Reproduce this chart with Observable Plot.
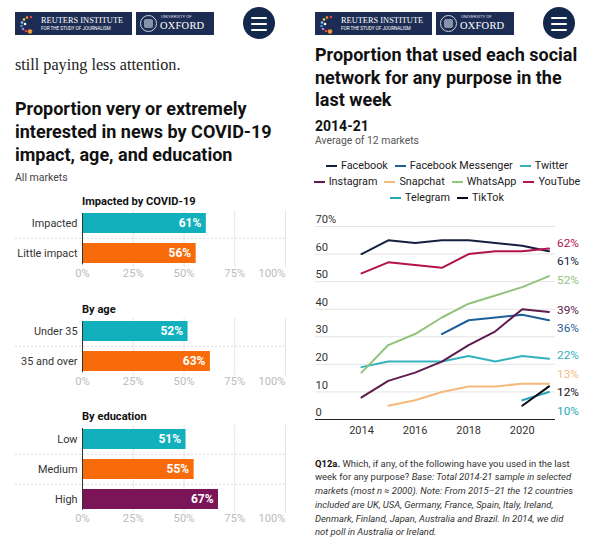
<!DOCTYPE html>
<html><head><meta charset="utf-8">
<script src="https://cdn.jsdelivr.net/npm/d3@7"></script>
<script src="https://cdn.jsdelivr.net/npm/@observablehq/plot@0.6"></script>
<style>
body{margin:0;background:#fff;font-family:Roboto,sans-serif;color:#222}
#page{position:relative;width:600px;height:537px;overflow:hidden;background:#fff}
.col{position:absolute;top:0;width:300px;height:537px}
.abs{position:absolute;white-space:nowrap}
.box{position:absolute;top:12px;height:23px;background:#1c2c52;overflow:hidden}
.menu{position:absolute;left:243px;top:7px;width:32px;height:32px;border-radius:50%;background:#14284b}
.menu span{position:absolute;left:8px;width:16px;height:2.5px;background:#fff;border-radius:1px}
.title{font-weight:700;font-size:18px;line-height:23px;color:#111}
.lg{display:flex;flex-wrap:wrap;justify-content:center;column-gap:7px;row-gap:0;font-size:10.8px;line-height:16px;color:#222}
.lg div{display:flex;align-items:center;gap:4px}
.lg i{display:inline-block;width:11px;height:2.5px}
svg{display:block}
</style></head>
<body><div id="page">
<div class="col" id="left" style="left:0"></div>
<div class="col" id="right" style="left:300px"></div>
</div>
<script>
// ---------- data ----------
const barGroupTitles = ["Impacted by COVID-19", "By age", "By education"];
const covidCats = ["Impacted", "Little impact"];
const covidVals = [61, 56];
const ageCats = ["Under 35", "35 and over"];
const ageVals = [52, 63];
const eduCats = ["Low", "Medium", "High"];
const eduVals = [51, 55, 67];
const barTicks = [0, 25, 50, 75, 100];

const years = [2014, 2015, 2016, 2017, 2018, 2019, 2020, 2021];
const networks = ["Facebook", "Facebook Messenger", "Twitter", "Instagram", "Snapchat", "WhatsApp", "YouTube", "Telegram", "TikTok"];
const facebook  = [60, 65, 64, 65, 65, 64, 63, 61];
const messenger = [null, null, null, 31, 36, 37, 38, 36];
const twitter   = [19, 21, 21, 21, 23, 21, 23, 22];
const instagram = [8, 14, 17, 21, 27, 32, 40, 39];
const snapchat  = [null, 5, 7, 10, 12, 12, 13, 13];
const whatsapp  = [17, 27, 31, 37, 42, 45, 48, 52];
const youtube   = [53, 57, 56, 55, 60, 61, 61, 62];
const telegram  = [null, null, null, null, null, null, 7, 10];
const tiktok    = [null, null, null, null, null, null, 5, 12];
const lineXTicks = [2014, 2016, 2018, 2020];
const lineYTicks = [0, 10, 20, 30, 40, 50, 60, 70];

// ---------- styles ----------
const barColors = ["#12b0bd", "#f76b0a", "#7b1558"];
const netColors = ["#14203f", "#1d5e9b", "#33b2be", "#5e1b4f", "#f3ba7c", "#92c37c", "#b3124c", "#2aa6b6", "#0b0b18"];
const FONT = "Roboto, sans-serif";

// ---------- header ----------
function header(col) {
  const dots = ["#e9423a","#f39a2c","#f6d14b","#8fc8e8","#3aa0d8","#c27ad0","#e9423a","#f39a2c","#ffffff"];
  let dotSvg = '<svg width="16" height="20" style="position:absolute;left:4px;top:2px">';
  const pts = [[12,3],[8,3.5],[5,5.5],[3,8.5],[2.5,12],[4,15],[7,17],[11,17.5],[6,10]];
  pts.forEach((p, i) => dotSvg += `<circle cx="${p[0]}" cy="${p[1]}" r="${i===7?2.3:1.3}" fill="${dots[i]}"/>`);
  dotSvg += '</svg>';
  col.insertAdjacentHTML("beforeend", `
  <div class="box" style="left:15px;width:117px">${dotSvg}
    <div class="abs" style="left:26px;top:3.5px;font-family:'Liberation Serif',serif;font-size:8.4px;color:#fff">REUTERS INSTITUTE</div>
    <div class="abs" style="left:26px;top:14px;font-size:4.6px;color:#fff">FOR THE STUDY OF JOURNALISM</div>
  </div>
  <div class="box" style="left:136px;width:78px">
    <div class="abs" style="left:4px;top:3px;width:15px;height:15px;border:1px solid #cfd5e0;border-radius:50%"></div>
    <div class="abs" style="left:8px;top:7px;width:9px;height:9px;background:#8893aa;border-radius:2px"></div>
    <div class="abs" style="left:25px;top:2px;font-size:4.4px;color:#dde">UNIVERSITY OF</div>
    <div class="abs" style="left:24px;top:7.5px;font-family:'Liberation Serif',serif;font-size:10.5px;color:#fff;letter-spacing:0.2px">OXFORD</div>
  </div>
  <div class="menu"><span style="top:9.5px"></span><span style="top:15.5px"></span><span style="top:21.5px"></span></div>`);
}

const left = document.getElementById("left");
const right = document.getElementById("right");
header(left);
header(right);

// ---------- left column texts ----------
left.insertAdjacentHTML("beforeend", `
<div class="abs" style="left:15px;top:55px;font-family:'Liberation Serif',serif;font-size:16.2px;line-height:20px;color:#222">still paying less attention.</div>
<div class="abs title" style="left:15px;top:97px">Proportion very or extremely<br>interested in news by COVID-19<br>impact, age, and education</div>
<div class="abs" style="left:15px;top:171px;font-size:10.5px;line-height:13px;color:#444">All markets</div>`);

const groups = [
  {title: barGroupTitles[0], cats: covidCats, vals: covidVals, top: 206.7},
  {title: barGroupTitles[1], cats: ageCats, vals: ageVals, top: 314.7},
  {title: barGroupTitles[2], cats: eduCats, vals: eduVals, top: 422}
];
const PI = 0.32, PO = 0.1, MT = 3, MB = 20, STEP = 30.5;
groups.forEach((g, gi) => {
  const n = g.cats.length;
  const H = MT + MB + STEP * (n - PI + 2 * PO);
  const rows = g.cats.map((c, i) => ({cat: c, value: g.vals[i], color: barColors[i]}));
  const plot = Plot.plot({
    width: 300, height: H,
    marginLeft: 82, marginRight: 15, marginTop: MT, marginBottom: MB,
    style: {fontFamily: FONT, fontSize: "10.9px", color: "#333", overflow: "visible", background: "transparent"},
    x: {domain: [0, 100], axis: null},
    y: {domain: g.cats, paddingInner: PI, paddingOuter: PO, tickSize: 0, tickPadding: 5, label: null},
    color: {type: "identity"},
    marks: [
      Plot.ruleX(barTicks.slice(1), {stroke: "#e6e6e6"}),
      Plot.ruleY(g.cats.slice(1), {y: d => d, dy: -STEP / 2, stroke: "#d8d8d8", strokeDasharray: "2,2", insetLeft: -67, insetRight: -2}),
      Plot.barX(rows, {x: "value", y: "cat", fill: "color"}),
      Plot.ruleX([0], {stroke: "#333", insetTop: 3, insetBottom: 3}),
      Plot.text(rows, {x: "value", y: "cat", text: d => d.value + "%", textAnchor: "end", dx: -5, fill: "white", fontWeight: "bold", fontSize: 12}),
      Plot.text(barTicks.slice(0, -1), {x: d => d, frameAnchor: "bottom", dy: 9, text: d => d + "%", fill: "#bbb", fontSize: 11.2}),
      Plot.text(barTicks.slice(-1), {x: d => d, frameAnchor: "bottom", dy: 9, text: d => d + "%", textAnchor: "end", fill: "#bbb", fontSize: 11.2})
    ]
  });
  const wrap = document.createElement("div");
  wrap.className = "abs";
  wrap.style.left = "0px";
  wrap.style.top = g.top + "px";
  wrap.appendChild(plot);
  left.appendChild(wrap);
  left.insertAdjacentHTML("beforeend", `<div class="abs" style="left:82px;top:${g.top - 12}px;font-size:11.1px;line-height:14px;font-weight:700;color:#111">${g.title}</div>`);
});

// ---------- right column texts ----------
right.insertAdjacentHTML("beforeend", `
<div class="abs title" style="left:15px;top:44px;line-height:22.7px">Proportion that used each social<br>network for any purpose in the<br>last week</div>
<div class="abs" style="left:15px;top:118px;font-size:14px;line-height:16px;font-weight:700;color:#111">2014-21</div>
<div class="abs" style="left:15px;top:133.5px;font-size:10.4px;line-height:13px;color:#555">Average of 12 markets</div>
<div class="abs" style="left:15px;top:456.5px;font-size:9.45px;line-height:13.75px;color:#333"><b style="color:#111">Q12a.</b> Which, if any, of the following have you used in the last<br>week for any purpose? <i>Base: Total 2014-21 sample in selected<br>markets (most n ≈ 2000). Note: From 2015–21 the 12 countries<br>included are UK, USA, Germany, France, Spain, Italy, Ireland,<br>Denmark, Finland, Japan, Australia and Brazil. In 2014, we did<br>not poll in Australia or Ireland.</i></div>`);

// legend
const lg = document.createElement("div");
lg.className = "lg abs";
lg.style.left = "2px"; lg.style.top = "158px"; lg.style.width = "290px"; lg.style.whiteSpace = "normal";
networks.forEach((n, i) => {
  const it = document.createElement("div");
  it.innerHTML = `<i style="background:${netColors[i]}"></i><span>${n}</span>`;
  lg.appendChild(it);
});
right.appendChild(lg);

// ---------- line chart ----------
const seriesVals = [facebook, messenger, twitter, instagram, snapchat, whatsapp, youtube, telegram, tiktok];
const lineRows = [];
seriesVals.forEach((s, k) => s.forEach((v, i) => { if (v != null) lineRows.push({network: networks[k], year: years[i], value: v}); }));

const LW = 300, LH = 232, LMT = 14, LMB = 25;
const yScale = Plot.scale({y: {domain: [0, 70], range: [LH - LMB, LMT]}});
const ends = seriesVals.map((s, k) => ({network: networks[k], year: years[years.length - 1], value: s[s.length - 1]}));
// dodge end labels in pixel space
const px = ends.map(d => yScale.apply(d.value));
const order = px.map((_, i) => i).sort((a, b) => px[a] - px[b]);
const GAP = 18.5;
for (let it = 0; it < 300; it++) {
  for (let k = 0; k < order.length - 1; k++) {
    const a = order[k], b = order[k + 1];
    const d = px[b] - px[a];
    if (d < GAP) { const m = (GAP - d) / 2; px[a] -= m; px[b] += m; }
  }
}
ends.forEach((d, i) => d.labelY = yScale.invert(px[i]));

const linePlot = Plot.plot({
  width: LW, height: LH,
  marginLeft: 15, marginRight: 45, marginTop: LMT, marginBottom: LMB,
  style: {fontFamily: FONT, fontSize: "11px", color: "#333", overflow: "visible", background: "transparent"},
  x: {domain: [2014, 2021], insetLeft: 46, insetRight: 6.5, ticks: lineXTicks, tickFormat: d => String(d), tickSize: 0, tickPadding: 7, label: null},
  y: {domain: [0, 70], axis: null},
  color: {domain: networks, range: netColors},
  marks: [
    Plot.ruleY(lineYTicks.slice(1), {stroke: "#e4e4e4"}),
    Plot.ruleY([0], {stroke: "#222"}),
    Plot.text(lineYTicks, {y: d => d, frameAnchor: "left", textAnchor: "start", dy: -7, text: d => d === 70 ? "70%" : String(d), fill: "#333", fontSize: 11.2}),
    Plot.line(lineRows, {x: "year", y: "value", z: "network", stroke: "network", strokeWidth: 2}),
    Plot.text(ends, {x: "year", y: "labelY", text: d => d.value + "%", fill: "network", textAnchor: "start", dx: 8, dy: 3, fontSize: 11.8})
  ]
});
const lw = document.createElement("div");
lw.className = "abs";
lw.style.left = "0px"; lw.style.top = "212px";
lw.appendChild(linePlot);
right.appendChild(lw);
</script>
</body></html>
